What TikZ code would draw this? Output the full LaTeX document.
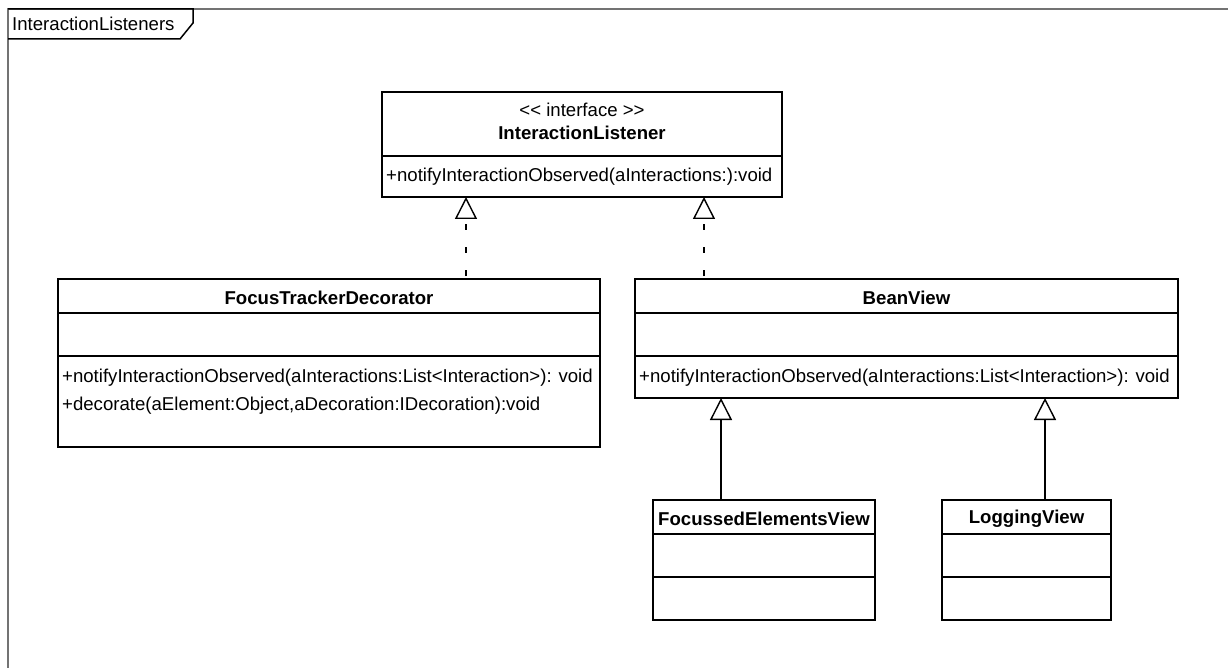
\documentclass[tikz,border=0pt]{standalone}
\usepackage{fontspec}
\newfontfamily\umlfont{Liberation Sans}
\usetikzlibrary{arrows.meta,calc}
\begin{document}
\begin{tikzpicture}[x=1pt,y=-1pt,
  box/.style={draw, line width=1.6pt, inner sep=0pt, outer sep=0pt, anchor=north west},
  txt/.style={font=\umlfont\fontsize{18.6}{22}\selectfont, inner sep=0pt},
  bold/.style={font=\umlfont\bfseries\fontsize{18.6}{22}\selectfont, inner sep=0pt},
  meth/.style={txt, anchor=west},
  divline/.style={line width=1.6pt},
  gen/.style={line width=1.4pt, -{Triangle[open, width=22pt, length=22pt, line width=1.4pt]}},
  realz/.style={gen, dash pattern=on 6pt off 17pt, dash phase=-3pt},
  frameline/.style={draw=black!55, line width=1.6pt}
]
\useasboundingbox (0,0) rectangle (1228,668);
\fill[white] (0,0) rectangle (1228,668);
% frame
\draw[frameline] (8,668) -- (8,9) -- (1228,9);
\draw[line width=1.5pt] (8,9) -- (193,9) -- (193,23) -- (180,39) -- (8,39);
\node[txt, anchor=west] (title) at (12,24) {InteractionListeners};

% InteractionListener
\node[box, minimum width=400pt, minimum height=105pt] (IL) at (382,92) {};
\draw[divline] ($(IL.north west)+(0,64)$) -- ($(IL.north east)+(0,64)$);
\node[txt] (ilst) at (582,110) {<< interface >>};
\node[bold] (ilname) at (582,133) {InteractionListener};
\node[meth] (ilm) at (386,177) {+notifyInteractionObserved(aInteractions:):void};

% FocusTrackerDecorator
\node[box, minimum width=542pt, minimum height=168pt] (FTD) at (58,279) {};
\draw[divline] ($(FTD.north west)+(0,34)$) -- ($(FTD.north east)+(0,34)$);
\draw[divline] ($(FTD.north west)+(0,77)$) -- ($(FTD.north east)+(0,77)$);
\node[bold] (ftdname) at (329,298) {FocusTrackerDecorator};
\node[meth] (ftdm1) at (62,378) {+notifyInteractionObserved(aInteractions:List<Interaction>): void};
\node[meth] (ftdm2) at (62,406) {+decorate(aElement:Object,aDecoration:IDecoration):void};

% BeanView
\node[box, minimum width=543pt, minimum height=119pt] (BV) at (635,279) {};
\draw[divline] ($(BV.north west)+(0,34)$) -- ($(BV.north east)+(0,34)$);
\draw[divline] ($(BV.north west)+(0,77)$) -- ($(BV.north east)+(0,77)$);
\node[bold] (bvname) at (906.5,298) {BeanView};
\node[meth] (bvm) at (639,378) {+notifyInteractionObserved(aInteractions:List<Interaction>): void};

% FocussedElementsView
\node[box, minimum width=222pt, minimum height=120pt] (FEV) at (653,500) {};
\draw[divline] ($(FEV.north west)+(0,34)$) -- ($(FEV.north east)+(0,34)$);
\draw[divline] ($(FEV.north west)+(0,77)$) -- ($(FEV.north east)+(0,77)$);
\node[bold] (fevname) at (764,519) {FocussedElementsView};

% LoggingView
\node[box, minimum width=169pt, minimum height=120pt] (LV) at (942,500) {};
\draw[divline] ($(LV.north west)+(0,34)$) -- ($(LV.north east)+(0,34)$);
\draw[divline] ($(LV.north west)+(0,77)$) -- ($(LV.north east)+(0,77)$);
\node[bold] (lvname) at (1026.5,519) {LoggingView};

% connectors
\coordinate (c1) at (466,0);
\coordinate (c2) at (704,0);
\coordinate (c3) at (721,0);
\coordinate (c4) at (1045,0);
\draw[realz] (c1 |- FTD.north) -- (c1 |- IL.south);
\draw[realz] (c2 |- BV.north) -- (c2 |- IL.south);
\draw[gen] (c3 |- FEV.north) -- (c3 |- BV.south);
\draw[gen] (c4 |- LV.north) -- (c4 |- BV.south);
\end{tikzpicture}
\end{document}
